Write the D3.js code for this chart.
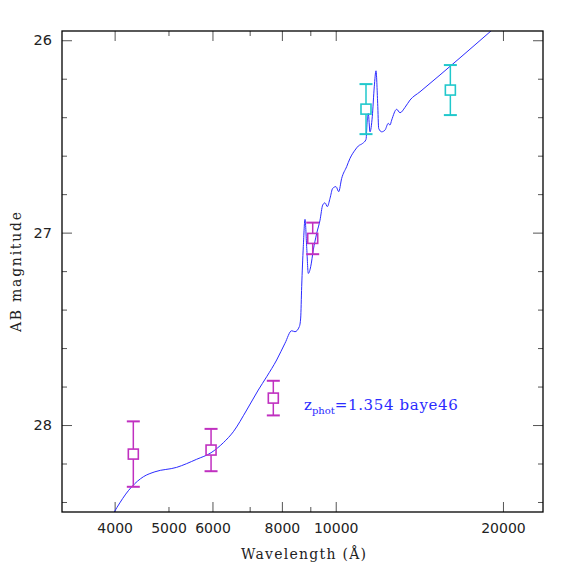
<!DOCTYPE html>
<html>
<head>
<meta charset="utf-8">
<script src="https://cdn.jsdelivr.net/npm/d3@7"></script>
<style>
  body { margin: 0; background: #fff; }
  svg { display: block; }
</style>
</head>
<body>
<svg id="sed" width="574" height="574"></svg>
<script>
// best-fit template (wavelength in A, AB mag)
const sedLambda = [3890, 4293, 4505, 4727, 5172, 5619, 5965, 6276, 6541, 6915,
    7255, 7511, 7829, 8104, 8331, 8447, 8599, 8648, 8684, 8743,
    8805, 8866, 8926, 9015, 9113, 9242, 9370, 9474, 9566, 9657,
    9766, 9874, 10012, 10123, 10250, 10464, 10610, 10832, 10980, 11181,
    11337, 11397, 11445, 11527, 11636, 11733, 11817, 11899, 11949, 12098,
    12266, 12434, 12523, 12610, 12874, 13053, 13326, 13605, 14180, 19755];
const sedMag = [28.509, 28.321, 28.269, 28.243, 28.220, 28.178, 28.144, 28.092, 28.035, 27.922,
    27.818, 27.749, 27.662, 27.575, 27.510, 27.515, 27.489, 27.444, 27.281, 27.073,
    26.931, 27.073, 27.212, 27.177, 27.090, 27.004, 26.935, 26.857, 26.845, 26.865,
    26.822, 26.770, 26.761, 26.787, 26.718, 26.657, 26.614, 26.571, 26.550, 26.536,
    26.516, 26.415, 26.381, 26.476, 26.398, 26.242, 26.159, 26.328, 26.458, 26.476,
    26.467, 26.432, 26.441, 26.415, 26.359, 26.377, 26.349, 26.311, 26.268, 25.911];

// photometry
const photLambda = [4322, 5965, 7721, 9090, 11337, 16082];
const photMag = [28.151, 28.130, 27.860, 27.030, 26.358, 26.259];
const photErr = [0.170, 0.110, 0.090, 0.082, 0.130, 0.130];
const photColor = ["#c030c0", "#c030c0", "#c030c0", "#c030c0", "#20c8cc", "#20c8cc"];

// ticks
const xMajorTicks = [4000, 6000, 8000, 10000, 20000];
const xMinorTicks = [5000, 7000, 9000];
const xTickLabels = [4000, 5000, 6000, 8000, 10000, 20000];
const yMajorTicks = [26, 27, 28];
const yMinorTicks = [26.2, 26.4, 26.6, 26.8, 27.2, 27.4, 27.6, 27.8, 28.2, 28.4];

const fitLabel = { z: "z", sub: "phot", rest: "=1.354 baye46" };

const svg = d3.select("#sed");
const margin = { top: 31, right: 31, bottom: 62, left: 62 };
const width = +svg.attr("width") - margin.left - margin.right;
const height = +svg.attr("height") - margin.top - margin.bottom;

const x = d3.scaleLog()
    .domain([3216, 23610])
    .range([0, width]);

const y = d3.scaleLinear()
    .domain([25.952, 28.452])
    .range([0, height]);

const g = svg.append("g")
    .attr("transform", `translate(${margin.left},${margin.top})`);

g.append("clipPath").attr("id", "plotClip")
    .append("rect").attr("width", width).attr("height", height);

// tick marks on all four sides, pointing inward
function tickAxis(axisFn, scale, values, size, transform) {
    const a = g.append("g")
        .attr("transform", transform)
        .call(axisFn(scale).tickValues(values).tickSize(size).tickFormat(""));
    a.select(".domain").remove();
    a.selectAll("line").attr("stroke", "#555").attr("stroke-width", 1);
}
tickAxis(d3.axisBottom, x, xMajorTicks, -10, `translate(0,${height})`);
tickAxis(d3.axisBottom, x, xMinorTicks, -5, `translate(0,${height})`);
tickAxis(d3.axisTop, x, xMajorTicks, -10, "translate(0,0)");
tickAxis(d3.axisTop, x, xMinorTicks, -5, "translate(0,0)");
tickAxis(d3.axisLeft, y, yMajorTicks, -10, "translate(0,0)");
tickAxis(d3.axisLeft, y, yMinorTicks, -5, "translate(0,0)");
tickAxis(d3.axisRight, y, yMajorTicks, -10, `translate(${width},0)`);
tickAxis(d3.axisRight, y, yMinorTicks, -5, `translate(${width},0)`);

// tick labels
const xl = g.append("g")
    .attr("transform", `translate(0,${height})`)
    .call(d3.axisBottom(x).tickValues(xTickLabels).tickSize(0).tickPadding(11).tickFormat(d3.format("d")));
xl.select(".domain").remove();
xl.selectAll("text")
    .attr("font-family", "DejaVu Sans")
    .attr("font-size", 14)
    .attr("fill", "#222");

const yl = g.append("g")
    .call(d3.axisLeft(y).tickValues(yMajorTicks).tickSize(0).tickPadding(10).tickFormat(d3.format("d")));
yl.select(".domain").remove();
yl.selectAll("text")
    .attr("font-family", "DejaVu Sans")
    .attr("font-size", 14.5)
    .attr("fill", "#222");

// template curve
const sed = sedLambda.map((l, i) => ({ l, m: sedMag[i] }));
g.append("path")
    .datum(sed)
    .attr("clip-path", "url(#plotClip)")
    .attr("fill", "none")
    .attr("stroke", "#2b2bff")
    .attr("stroke-width", 1)
    .attr("d", d3.line().curve(d3.curveMonotoneX).x(d => x(d.l)).y(d => y(d.m)));

// photometric points with error bars
const phot = photLambda.map((l, i) => ({ l, m: photMag[i], e: photErr[i], c: photColor[i] }));
const half = 5, cap = 6.5;
const pts = g.selectAll(".phot").data(phot).join("g").attr("class", "phot");
pts.append("line")
    .attr("x1", d => x(d.l)).attr("x2", d => x(d.l))
    .attr("y1", d => y(d.m - d.e)).attr("y2", d => y(d.m) - half)
    .attr("stroke", d => d.c).attr("stroke-width", 1.5);
pts.append("line")
    .attr("x1", d => x(d.l)).attr("x2", d => x(d.l))
    .attr("y1", d => y(d.m) + half).attr("y2", d => y(d.m + d.e))
    .attr("stroke", d => d.c).attr("stroke-width", 1.5);
pts.append("line")
    .attr("x1", d => x(d.l) - cap).attr("x2", d => x(d.l) + cap)
    .attr("y1", d => y(d.m - d.e)).attr("y2", d => y(d.m - d.e))
    .attr("stroke", d => d.c).attr("stroke-width", 2);
pts.append("line")
    .attr("x1", d => x(d.l) - cap).attr("x2", d => x(d.l) + cap)
    .attr("y1", d => y(d.m + d.e)).attr("y2", d => y(d.m + d.e))
    .attr("stroke", d => d.c).attr("stroke-width", 2);
pts.append("rect")
    .attr("x", d => x(d.l) - half).attr("y", d => y(d.m) - half)
    .attr("width", 2 * half).attr("height", 2 * half)
    .attr("fill", "none")
    .attr("stroke", d => d.c).attr("stroke-width", 1.6);

// frame
g.append("rect")
    .attr("width", width).attr("height", height)
    .attr("fill", "none").attr("stroke", "#000").attr("stroke-width", 1.3);

// fit label
const lab = g.append("text")
    .attr("x", 304 - margin.left).attr("y", 410 - margin.top)
    .attr("font-family", "DejaVu Serif")
    .attr("fill", "#2b2bff");
lab.append("tspan").attr("font-size", 15).text(fitLabel.z);
lab.append("tspan").attr("font-size", 10).attr("dy", 4).text(fitLabel.sub);
lab.append("tspan").attr("font-size", 15).attr("dy", -4)
    .attr("textLength", 123).attr("lengthAdjust", "spacing").text(fitLabel.rest);

// axis titles
svg.append("text")
    .attr("x", margin.left + width / 2 + 1).attr("y", 559)
    .attr("text-anchor", "middle")
    .attr("font-family", "DejaVu Serif")
    .attr("font-size", 14)
    .attr("textLength", 125).attr("lengthAdjust", "spacing")
    .attr("fill", "#222")
    .text("Wavelength (Å)");

svg.append("text")
    .attr("transform", "translate(21,272) rotate(-90)")
    .attr("text-anchor", "middle")
    .attr("font-family", "DejaVu Serif")
    .attr("font-size", 14)
    .attr("textLength", 120).attr("lengthAdjust", "spacing")
    .attr("fill", "#222")
    .text("AB magnitude");
</script>
</body>
</html>
